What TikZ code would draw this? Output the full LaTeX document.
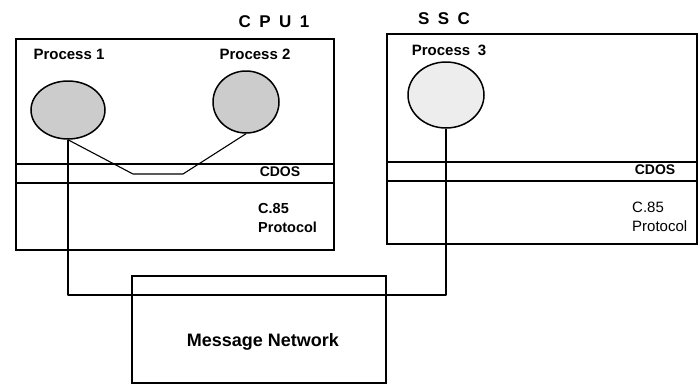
\documentclass[tikz,border=0pt]{standalone}
\usepackage{fontspec}
\setmainfont{Liberation Sans}
\newfontfamily\spacedsans[LetterSpace=50]{Liberation Sans}
\usetikzlibrary{shapes.geometric}

\begin{document}
\begin{tikzpicture}[x=1pt,y=-1pt,
  box/.style={draw, line width=1.6pt, rectangle, inner sep=0pt, anchor=north west},
  band/.style={draw, line width=1.3pt},
  proc/.style={ellipse, draw, line width=1.5pt, inner sep=0pt},
  link/.style={draw, line width=1.1pt, line join=round},
  title/.style={font=\spacedsans\bfseries\fontsize{17}{19}\selectfont, inner sep=0pt, anchor=base},
  plabel/.style={font=\bfseries\fontsize{15}{17}\selectfont, inner sep=0pt, anchor=base},
  layer/.style={font=\bfseries\fontsize{14}{16}\selectfont, inner sep=0pt, anchor=base},
  proto/.style={font=\bfseries\fontsize{14.5}{16}\selectfont, inner sep=0pt, anchor=base west},
  protolight/.style={font=\fontsize{15}{17}\selectfont, inner sep=0pt, anchor=base west},
  netlabel/.style={font=\bfseries\fontsize{18}{20}\selectfont, inner sep=0pt, anchor=base}
]
\useasboundingbox (0,0) rectangle (698,384);

% machine boxes and the network box
\node[box, minimum width=318, minimum height=211] (cpu) at (15,38) {};
\node[box, minimum width=310, minimum height=210] (ssc) at (386,33) {};
\node[box, minimum width=254, minimum height=107] (net) at (131,275) {};

% CDOS layer bands
\draw[band] (cpu.west |- 0,164) -- (cpu.east |- 0,164);
\draw[band] (cpu.west |- 0,183) -- (cpu.east |- 0,183);
\draw[band] (ssc.west |- 0,162) -- (ssc.east |- 0,162);
\draw[band] (ssc.west |- 0,181) -- (ssc.east |- 0,181);

% processes
\node[proc, fill=black!20, minimum width=74, minimum height=58] (p1) at (68,110) {};
\node[proc, fill=black!20, minimum width=66, minimum height=62] (p2) at (246,102) {};
\node[proc, fill=black!7, minimum width=76, minimum height=66] (p3) at (446,95) {};

% local link through CDOS
\coordinate (bendA) at (133,174);
\coordinate (bendB) at (183,174);
\draw[link] (p1.south) -- (bendA) -- (bendB) -- (p2.south);

% link through the message network
\coordinate (bus) at (260,295);
\draw[link] (p1.south) |- (bus) -| (p3.south);

% labels
\node[title] (cputitle) at (274,27) {CPU1};
\node[title] (ssctitle) at (444,24) {SSC};
\node[plabel] (l1) at (69,59) {Process 1};
\node[plabel] (l2) at (255,59) {Process 2};
\node[plabel] (l3) at (449,55) {Process\enspace 3};
\node[layer] (cdos1) at (280,176) {CDOS};
\node[layer] (cdos2) at (655,174) {CDOS};
\node[proto] (c85a) at (258,213) {C.85};
\node[proto] (prota) at (258,232) {Protocol};
\node[protolight] (c85b) at (632,212) {C.85};
\node[protolight] (protb) at (632,231) {Protocol};
\node[netlabel] (netl) at (263,346) {Message Network};
\end{tikzpicture}
\end{document}
